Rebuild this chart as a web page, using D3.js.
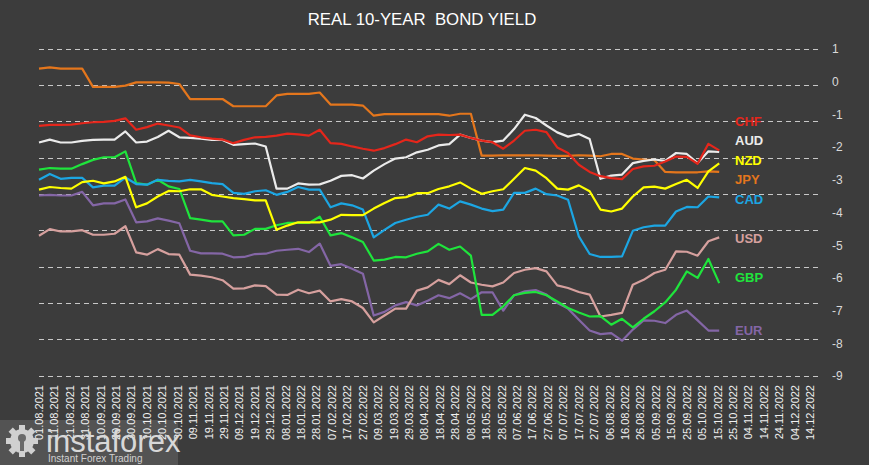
<!DOCTYPE html>
<html>
<head>
<meta charset="utf-8">
<script src="https://cdn.jsdelivr.net/npm/d3@7/dist/d3.min.js"></script>
<style>
  html, body { margin: 0; padding: 0; background: #3c3c3c; }
  svg { display: block; }
</style>
</head>
<body>
<div id="chart"></div>
<script>
// ---------------- DATA ----------------
const title = "REAL 10-YEAR  BOND YIELD";
const firstDate = "2021-08-01";   // first weekly observation
const pointCount = 64;            // weekly observations
const tickStartDate = "2021-08-01";
const tickCount = 51;             // a label every 10 days
const yTickValues = [1, 0, -1, -2, -3, -4, -5, -6, -7, -8, -9];

const seriesNames = ["CHF", "AUD", "NZD", "JPY", "CAD", "USD", "GBP", "EUR"];

const CHF = [-1.35,-1.32,-1.32,-1.31,-1.27,-1.24,-1.23,-1.20,-1.12,-1.47,-1.39,-1.28,-1.34,-1.40,-1.64,-1.70,-1.74,
  -1.77,-1.88,-1.78,-1.70,-1.69,-1.65,-1.59,-1.61,-1.65,-1.47,-1.88,-1.90,-1.98,-2.05,-2.11,-2.03,
  -1.91,-1.77,-1.85,-1.67,-1.62,-1.63,-1.62,-1.72,-1.80,-1.85,-2.05,-1.80,-1.50,-1.47,-1.54,-2.01,-2.18,
  -2.54,-2.76,-2.89,-2.95,-2.98,-2.67,-2.59,-2.57,-2.44,-2.29,-2.30,-2.51,-1.90,-2.10];
const AUD = [-1.86,-1.77,-1.86,-1.86,-1.81,-1.78,-1.77,-1.77,-1.52,-1.86,-1.83,-1.69,-1.50,-1.70,-1.72,-1.74,-1.78,
  -1.78,-1.93,-1.91,-1.89,-1.98,-3.27,-3.27,-3.11,-3.15,-3.14,-3.03,-2.88,-2.86,-2.96,-2.72,-2.52,
  -2.35,-2.31,-2.16,-2.08,-1.95,-1.91,-1.62,-1.72,-1.80,-1.85,-1.80,-1.45,-1.01,-1.11,-1.34,-1.55,-1.68,
  -1.60,-1.75,-2.97,-2.87,-2.84,-2.49,-2.42,-2.38,-2.42,-2.18,-2.21,-2.49,-2.13,-2.15];
const NZD = [-3.30,-3.22,-3.25,-3.27,-3.07,-3.03,-3.11,-3.05,-2.91,-3.84,-3.72,-3.51,-3.34,-3.35,-3.29,-3.29,-3.46,
  -3.51,-3.56,-3.59,-3.63,-3.63,-4.53,-4.40,-4.30,-4.30,-4.30,-4.22,-4.07,-4.08,-4.08,-3.88,-3.71,
  -3.56,-3.53,-3.41,-3.41,-3.28,-3.20,-3.08,-3.27,-3.43,-3.35,-3.29,-2.97,-2.64,-2.72,-2.95,-3.27,-3.30,
  -3.17,-3.35,-3.91,-3.97,-3.88,-3.51,-3.23,-3.21,-3.27,-3.13,-3.00,-3.25,-2.74,-2.50];
const JPY = [0.40,0.44,0.40,0.40,0.40,-0.16,-0.16,-0.16,-0.12,-0.02,-0.02,-0.02,-0.03,-0.07,-0.53,-0.53,-0.53,
  -0.53,-0.75,-0.75,-0.75,-0.75,-0.42,-0.37,-0.37,-0.37,-0.33,-0.70,-0.70,-0.70,-0.73,-1.04,-0.99,
  -0.99,-0.99,-0.99,-0.99,-0.99,-1.04,-0.98,-0.98,-2.26,-2.26,-2.25,-2.25,-2.25,-2.25,-2.26,-2.27,-2.27,
  -2.25,-2.26,-2.28,-2.21,-2.21,-2.35,-2.38,-2.40,-2.76,-2.77,-2.77,-2.77,-2.74,-2.76];
const CAD = [-3.00,-2.82,-2.97,-2.94,-2.94,-3.23,-3.18,-3.18,-2.93,-3.13,-3.15,-3.00,-3.03,-3.05,-3.00,-3.05,-3.10,
  -3.13,-3.40,-3.43,-3.35,-3.32,-3.46,-3.37,-3.22,-3.30,-3.30,-3.84,-3.72,-3.78,-3.91,-4.76,-4.53,
  -4.32,-4.22,-4.13,-4.07,-3.76,-3.88,-3.66,-3.76,-3.88,-3.96,-3.91,-3.40,-3.40,-3.27,-3.44,-3.48,-3.61,
  -4.73,-5.27,-5.36,-5.36,-5.34,-4.56,-4.45,-4.40,-4.40,-3.97,-3.83,-3.84,-3.51,-3.54];
const USD = [-4.71,-4.51,-4.58,-4.58,-4.54,-4.68,-4.68,-4.65,-4.42,-5.22,-5.29,-5.12,-5.27,-5.29,-5.90,-5.93,-5.98,
  -6.07,-6.33,-6.32,-6.23,-6.25,-6.51,-6.52,-6.36,-6.47,-6.39,-6.72,-6.65,-6.72,-6.92,-7.36,-7.15,
  -6.94,-6.94,-6.39,-6.29,-6.06,-6.19,-5.92,-6.14,-6.21,-6.26,-6.14,-5.85,-5.75,-5.70,-5.80,-6.23,-6.31,
  -6.43,-6.51,-7.18,-7.13,-7.07,-6.21,-6.06,-5.85,-5.75,-5.19,-5.20,-5.32,-4.88,-4.76];
const GBP = [-2.69,-2.64,-2.66,-2.66,-2.52,-2.39,-2.31,-2.31,-2.13,-3.10,-3.15,-3.00,-3.20,-3.28,-4.17,-4.22,-4.27,
  -4.27,-4.70,-4.68,-4.50,-4.50,-4.39,-4.32,-4.32,-4.32,-4.13,-4.70,-4.63,-4.76,-4.90,-5.47,-5.44,
  -5.36,-5.37,-5.26,-5.19,-4.96,-5.14,-5.04,-5.32,-7.13,-7.13,-6.87,-6.53,-6.46,-6.43,-6.53,-6.72,-6.92,
  -7.06,-7.18,-7.17,-7.43,-7.25,-7.51,-7.25,-7.02,-6.75,-6.36,-5.80,-6.00,-5.42,-6.16];
const EUR = [-3.48,-3.46,-3.48,-3.48,-3.37,-3.78,-3.72,-3.72,-3.60,-4.30,-4.27,-4.18,-4.25,-4.33,-5.17,-5.25,-5.25,
  -5.26,-5.37,-5.36,-5.27,-5.26,-5.17,-5.14,-5.11,-5.21,-4.95,-5.63,-5.58,-5.72,-5.87,-7.15,-7.04,
  -6.84,-6.74,-6.84,-6.70,-6.53,-6.62,-6.47,-6.65,-6.44,-6.44,-7.00,-6.53,-6.41,-6.37,-6.51,-6.77,-6.94,
  -7.28,-7.61,-7.72,-7.69,-7.92,-7.58,-7.30,-7.31,-7.38,-7.13,-7.00,-7.30,-7.61,-7.61];

// ---------------- STYLE / LAYOUT ----------------
const W = 869, H = 465;
const colors = {CHF:"#e5261b", AUD:"#ebebeb", NZD:"#ffff00", JPY:"#e4761c",
                CAD:"#1ca6e3", USD:"#d6a09e", GBP:"#1fe43c", EUR:"#8466a6"};
const legendY = {CHF:126, AUD:145, NZD:165, JPY:184, CAD:204, USD:243, GBP:282, EUR:335};
const plot = {left:39, right:821, top:49, bottom:376};
const gridCount = 10;
const domainEnd = "2022-12-21";

const parse = d3.utcParse("%Y-%m-%d");
const dates = d3.range(pointCount).map(i => d3.utcDay.offset(parse(firstDate), 7 * i));
const tickDates = d3.range(tickCount).map(i => d3.utcDay.offset(parse(tickStartDate), 10 * i));
const seriesData = {CHF, AUD, NZD, JPY, CAD, USD, GBP, EUR};

const svg = d3.select("#chart").append("svg").attr("width", W).attr("height", H);
svg.append("rect").attr("width", W).attr("height", H).attr("fill", "#3c3c3c");

const x = d3.scaleUtc().domain([parse(firstDate), parse(domainEnd)]).range([plot.left, plot.right]);
const y = d3.scaleLinear().domain([-9, 1]).range([plot.bottom, plot.top]);
const gridScale = d3.scaleLinear().domain([0, gridCount - 1]).range([plot.top, plot.bottom]);

// gridlines
svg.append("g").selectAll("line").data(d3.range(gridCount)).join("line")
  .attr("x1", plot.left).attr("x2", plot.right)
  .attr("y1", d => gridScale(d)).attr("y2", d => gridScale(d))
  .attr("stroke", "#c8c8c8").attr("stroke-width", 1).attr("stroke-dasharray", "5,4")
  .attr("shape-rendering", "crispEdges");

// title
svg.append("text").attr("x", 422).attr("y", 25).attr("text-anchor", "middle")
  .style("white-space", "pre")
  .attr("font-family", "'Liberation Sans', Arial, sans-serif").attr("font-size", 16.8)
  .attr("fill", "#ffffff").text(title);

// right axis
const yAxis = d3.axisRight(y).tickValues(yTickValues).tickSize(0).tickPadding(0)
  .tickFormat(d => d < 0 ? "-" + Math.abs(d) : String(d));
const gy = svg.append("g").attr("transform", `translate(832,0)`).call(yAxis);
gy.select(".domain").remove();
gy.selectAll("text").attr("fill", "#d9d9d9").attr("font-size", 12)
  .attr("font-family", "'Liberation Sans', Arial, sans-serif");

// x axis labels (rotated)
const fmt = d3.utcFormat("%d.%m.%Y");
svg.append("g").selectAll("text").data(tickDates).join("text")
  .attr("transform", d => `translate(${x(d)},385) rotate(-90)`)
  .attr("text-anchor", "end").attr("dy", "0.35em")
  .attr("font-family", "'Liberation Sans', Arial, sans-serif").attr("font-size", 11)
  .attr("fill", "#f0f0f0").text(d => fmt(d));

// lines (draw order: back to front)
const drawOrder = ["EUR", "USD", "GBP", "CAD", "JPY", "NZD", "AUD", "CHF"];
const line = d3.line().x((d, i) => x(dates[i])).y(d => y(d));
svg.append("g").selectAll("path").data(drawOrder).join("path")
  .attr("d", k => line(seriesData[k]))
  .attr("fill", "none").attr("stroke", k => colors[k]).attr("stroke-width", 2.2)
  .attr("stroke-linejoin", "round");

// legend labels
svg.append("g").selectAll("text").data(seriesNames).join("text")
  .attr("x", 735).attr("y", k => legendY[k])
  .attr("font-family", "'Liberation Sans', Arial, sans-serif").attr("font-weight", "bold")
  .attr("font-size", 13).attr("fill", k => colors[k]).text(k => k);

// logo watermark
const logo = svg.append("g");
logo.append("rect").attr("x", 0).attr("y", 420).attr("width", 178).attr("height", 45)
  .attr("fill", "#ffffff").attr("opacity", 0.12);
const gear = logo.append("g").attr("transform", "translate(22,441)").attr("fill", "#d0d0d0");
d3.range(8).forEach(i => {
  gear.append("rect").attr("x", -3).attr("y", -16).attr("width", 6).attr("height", 7)
    .attr("transform", `rotate(${i * 45})`);
});
gear.append("circle").attr("r", 12);
gear.append("circle").attr("r", 4).attr("cy", -3).attr("fill", "#6a6a6a");
gear.append("rect").attr("x", -2).attr("y", 0).attr("width", 4).attr("height", 10).attr("fill", "#6a6a6a");
logo.append("text").attr("x", 46).attr("y", 452)
  .attr("font-family", "'Liberation Sans', Arial, sans-serif").attr("font-size", 31)
  .attr("fill", "#d8d8d8").text("instaforex");
logo.append("text").attr("x", 48).attr("y", 462)
  .attr("font-family", "'Liberation Sans', Arial, sans-serif").attr("font-size", 10)
  .attr("fill", "#d0d0d0").text("Instant Forex Trading");
</script>
</body>
</html>
